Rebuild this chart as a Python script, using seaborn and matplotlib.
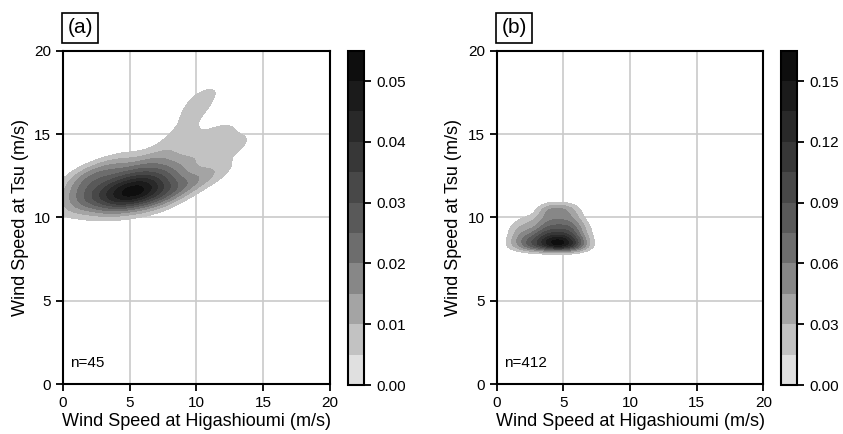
import numpy as np
import pandas as pd
import matplotlib
matplotlib.use("Agg")
import matplotlib.pyplot as plt
import seaborn as sns
from matplotlib.colors import ListedColormap, BoundaryNorm
from matplotlib.cm import ScalarMappable
from seaborn._statistics import KDE

# ---- (a) paired wind speeds, 45 cases ----
higashiomi_a = [1.5, 3.0, 4.2, 5.2, 6.3, 7.5,
                1.0, 2.3, 3.6, 4.6, 5.0, 5.7, 6.8, 8.2,
                1.4, 2.9, 4.0, 4.8, 5.3, 5.9, 6.5, 7.3, 9.0,
                2.0, 3.4, 4.4, 5.5, 6.2, 7.8,
                1.3, 3.0, 4.9, 6.0, 7.0, 8.5, 4.0,
                7.6, 8.8, 9.8, 10.6, 10.8, 11.8, 13.0, 11.5, 10.0]
tsu_a = [10.9, 10.8, 10.9, 10.8, 11.0, 11.0,
         11.3, 11.2, 11.3, 11.2, 11.4, 11.3, 11.4, 11.5,
         11.8, 11.6, 11.7, 11.6, 11.8, 11.6, 11.8, 11.7, 12.0,
         12.3, 12.1, 12.2, 12.1, 12.3, 12.4,
         12.5, 12.8, 12.7, 13.1, 12.9, 13.0, 13.2,
         13.8, 15.0, 16.3, 17.4, 14.0, 15.2, 14.4, 12.8, 12.2]

# ---- (b) 412 cases, tallied by Higashioumi (columns) and Tsu (rows) speed ----
higashiomi_b_bins = [1.0, 1.5, 2.0, 2.5, 3.0, 3.5, 4.0, 4.5, 5.0, 5.5, 6.0, 6.5, 7.0]
tsu_b_bins = [8.25, 8.55, 8.85, 9.15, 9.45, 9.75, 10.05, 10.35, 10.65]
counts_b = [
    [2, 2, 5, 6, 7, 9, 10, 12, 12, 9, 8, 4, 2],
    [2, 3, 4, 6, 7, 8, 10, 12, 10, 9, 7, 3, 2],
    [1, 3, 4, 4, 5, 7, 8, 8, 8, 7, 5, 3, 1],
    [1, 2, 3, 3, 4, 6, 6, 6, 6, 6, 4, 2, 1],
    [1, 2, 2, 2, 2, 4, 5, 5, 5, 5, 4, 2, 1],
    [0, 1, 2, 2, 2, 4, 4, 4, 4, 4, 3, 1, 0],
    [0, 0, 1, 1, 1, 3, 3, 3, 3, 3, 2, 1, 0],
    [0, 0, 0, 0, 1, 3, 4, 4, 4, 3, 2, 0, 0],
    [0, 0, 0, 0, 0, 2, 3, 3, 3, 2, 1, 0, 0],
]

# colour-bar boundaries and ticks of each panel
levels_a = [0.000, 0.005, 0.010, 0.015, 0.020, 0.025, 0.030, 0.035, 0.040, 0.045, 0.050, 0.055]
levels_b = [0.000, 0.015, 0.030, 0.045, 0.060, 0.075, 0.090, 0.105, 0.120, 0.135, 0.150, 0.165]
ticks_a = [0.00, 0.01, 0.02, 0.03, 0.04, 0.05]
ticks_b = [0.00, 0.03, 0.06, 0.09, 0.12, 0.15]
panel_labels = ["(a)", "(b)"]
sample_sizes = [45, 412]

BAND_GREYS = ["#e0e0e0", "#c2c2c2", "#a4a4a4", "#878787", "#6d6d6d", "#595959",
              "#484848", "#373737", "#292929", "#1b1b1b", "#0e0e0e"]

sns.set_style("ticks")
plt.rcParams["font.family"] = ["Liberation Sans", "DejaVu Sans"]
plt.rcParams.update({
    "axes.linewidth": 1.5,
    "xtick.major.size": 5, "ytick.major.size": 5,
    "xtick.major.width": 1.3, "ytick.major.width": 1.3,
    "xtick.labelsize": 11, "ytick.labelsize": 11,
    "xtick.color": "black", "ytick.color": "black",
    "axes.edgecolor": "black", "axes.labelcolor": "black", "text.color": "black",
})

fig = plt.figure(figsize=(8.43, 4.34), dpi=100)
ax_a = fig.add_axes([0.0747, 0.1152, 0.3167, 0.7673])
cax_a = fig.add_axes([0.4125, 0.1129, 0.0197, 0.7703])
ax_b = fig.add_axes([0.5892, 0.1152, 0.3163, 0.7673])
cax_b = fig.add_axes([0.9261, 0.1129, 0.0197, 0.7703])


def density_bands(ax, x, y, levels, bw_adjust):
    """Fill KDE bands whose edges sit at the given density values."""
    df = pd.DataFrame({"h": np.asarray(x, float), "t": np.asarray(y, float)})
    density, _ = KDE(bw_adjust=bw_adjust, gridsize=200, cut=3)(df["h"], df["t"])
    vals = np.sort(np.ravel(density))[::-1]
    cum = np.cumsum(vals) / vals.sum()
    peak = vals[0]
    # turn each density boundary into the iso-proportion seaborn expects
    inner = [d for d in levels[1:] if d < peak]
    props = []
    for d in inner:
        j = np.searchsorted(-vals, -d, side="right") - 1
        props.append(float(1.0 - cum[j]))
    props.append(1.0)
    band_cmap = ListedColormap(BAND_GREYS[1:1 + len(inner)])
    sns.kdeplot(data=df, x="h", y="t", fill=True, levels=props,
                bw_adjust=bw_adjust, cmap=band_cmap, ax=ax)


def style_panel(ax, cax, levels, ticks, label, n):
    ax.set_xlim(0, 20)
    ax.set_ylim(0, 20)
    ax.set_xticks([0, 5, 10, 15, 20])
    ax.set_yticks([0, 5, 10, 15, 20])
    ax.grid(True, color="#cacaca", lw=1.2)
    ax.set_axisbelow(True)
    for s in ax.spines.values():
        s.set_visible(True)
        s.set_linewidth(1.5)
    ax.set_xlabel("Wind Speed at Higashioumi (m/s)", fontsize=13, labelpad=2)
    ax.set_ylabel("Wind Speed at Tsu (m/s)", fontsize=13, labelpad=4)
    ax.text(0.028, 0.063, f"n={n}", transform=ax.transAxes, fontsize=11,
            ha="left", va="center")
    bbox = ax.get_position()
    fig.text(bbox.x0 + 0.0205, 0.9355, label, fontsize=15, ha="center", va="center",
             bbox=dict(boxstyle="square,pad=0.25", fc="white", ec="black", lw=1.2))

    cmap = ListedColormap(BAND_GREYS)
    norm = BoundaryNorm(levels, cmap.N)
    cb = fig.colorbar(ScalarMappable(norm=norm, cmap=cmap), cax=cax, ticks=ticks)
    cb.ax.set_yticklabels([f"{t:.2f}" for t in ticks])
    cb.ax.minorticks_off()
    cb.outline.set_linewidth(1.5)
    cb.outline.set_edgecolor("black")
    cax.tick_params(length=5, width=1.3, labelsize=11)


density_bands(ax_a, higashiomi_a, tsu_a, levels_a, 0.85)
style_panel(ax_a, cax_a, levels_a, ticks_a, panel_labels[0], sample_sizes[0])

gx, gy = np.meshgrid(higashiomi_b_bins, tsu_b_bins)
cnt = np.asarray(counts_b).ravel()
higashiomi_b = np.repeat(gx.ravel(), cnt)
tsu_b = np.repeat(gy.ravel(), cnt)
density_bands(ax_b, higashiomi_b, tsu_b, levels_b, 1.0)
style_panel(ax_b, cax_b, levels_b, ticks_b, panel_labels[1], sample_sizes[1])

fig.savefig("out.png", dpi=100)
